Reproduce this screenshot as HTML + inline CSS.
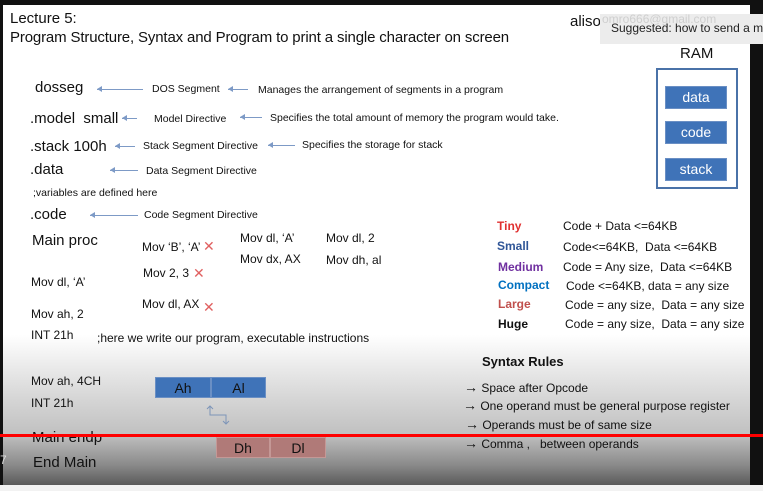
<!DOCTYPE html>
<html><head><meta charset="utf-8"><style>
*{margin:0;padding:0;box-sizing:border-box}
body{width:763px;height:491px;background:#111;position:relative;overflow:hidden;font-family:"Liberation Sans",sans-serif;color:#111}
#slide{position:absolute;left:3px;top:5px;width:747px;height:480px;background:linear-gradient(to bottom,#fff 0px,#fff 330px,#d8d8d8 390px,#c0c0c0 430px,#8a8a8a 460px,#5a5a5a 480px)}
#bot{position:absolute;left:0;top:485px;width:763px;height:6px;background:#f2f2f2}
.t{position:absolute;white-space:nowrap;line-height:1}
.s10{font-size:10.5px}.s12{font-size:12px}.s13{font-size:13px}.s15{font-size:15px}
.ar{position:absolute;height:1px;background:#7d9ac6}
.ar:before{content:"";position:absolute;left:0;top:-3px;border:3px solid transparent;border-right:5px solid #7d9ac6;border-left:0}
.x{position:absolute;color:#e06060;font-size:14px;line-height:1}
.b{position:absolute;background:#3f73b8;color:#fff;font-size:14px;text-align:center;border:1px solid #6a8fc4}
.arr{font-size:14px;font-weight:bold}
</style></head><body>
<div id="slide"></div>
<div id="bot"></div>
<div class="t s15" style="left:10px;top:11px">Lecture 5:</div>
<div class="t s15" style="left:10px;top:30px;letter-spacing:-0.15px">Program Structure, Syntax and Program to print a single character on screen</div>
<div class="t s15" style="left:570px;top:14px">aliso</div>
<div style="position:absolute;left:600px;top:14px;width:163px;height:30px;background:#ececec"></div>
<div class="t" style="left:602px;top:13px;color:#cfcfcf;font-size:12px">omro666@gmail.com</div>
<div class="t s12" style="left:611px;top:22px;color:#222">Suggested: how to send a m</div>
<div class="t s15" style="left:680px;top:46px">RAM</div>
<div style="position:absolute;left:656px;top:68px;width:82px;height:121px;border:2px solid #4a72a8"></div>
<div class="b" style="left:665px;top:86px;width:62px;height:23px;line-height:21px">data</div>
<div class="b" style="left:665px;top:121px;width:62px;height:23px;line-height:21px">code</div>
<div class="b" style="left:665px;top:158px;width:62px;height:23px;line-height:21px">stack</div>

<div class="t s15" style="left:35px;top:80px">dosseg</div>
<div class="ar" style="left:97px;top:89px;width:46px"></div>
<div class="t s10" style="left:152px;top:84px">DOS Segment</div>
<div class="ar" style="left:228px;top:89px;width:20px"></div>
<div class="t s10" style="left:258px;top:85px">Manages the arrangement of segments in a program</div>

<div class="t s15" style="left:30px;top:111px">.model&nbsp; small</div>
<div class="ar" style="left:122px;top:118px;width:15px"></div>
<div class="t s10" style="left:154px;top:114px">Model Directive</div>
<div class="ar" style="left:240px;top:117px;width:22px"></div>
<div class="t s10" style="left:270px;top:113px">Specifies the total amount of memory the program would take.</div>

<div class="t s15" style="left:30px;top:139px">.stack 100h</div>
<div class="ar" style="left:115px;top:146px;width:20px"></div>
<div class="t s10" style="left:143px;top:141px">Stack Segment Directive</div>
<div class="ar" style="left:268px;top:145px;width:27px"></div>
<div class="t s10" style="left:302px;top:140px">Specifies the storage for stack</div>

<div class="t s15" style="left:30px;top:162px">.data</div>
<div class="ar" style="left:110px;top:170px;width:28px"></div>
<div class="t s10" style="left:146px;top:166px">Data Segment Directive</div>
<div class="t s10" style="left:33px;top:188px">;variables are defined here</div>

<div class="t s15" style="left:30px;top:207px">.code</div>
<div class="ar" style="left:90px;top:215px;width:48px"></div>
<div class="t s10" style="left:144px;top:210px">Code Segment Directive</div>

<div class="t s15" style="left:32px;top:233px">Main proc</div>
<div class="t s12" style="left:142px;top:241px">Mov ‘B’, ‘A’</div><div class="x" style="left:203px;top:239px">✕</div>
<div class="t s12" style="left:240px;top:232px">Mov dl, ‘A’</div>
<div class="t s12" style="left:326px;top:232px">Mov dl, 2</div>
<div class="t s12" style="left:240px;top:253px">Mov dx, AX</div>
<div class="t s12" style="left:326px;top:254px">Mov dh, al</div>
<div class="t s12" style="left:143px;top:267px">Mov 2, 3</div><div class="x" style="left:193px;top:266px">✕</div>
<div class="t s12" style="left:31px;top:276px">Mov dl, ‘A’</div>
<div class="t s12" style="left:142px;top:298px">Mov dl, AX</div><div class="x" style="left:203px;top:300px">✕</div>
<div class="t s12" style="left:31px;top:308px">Mov ah, 2</div>
<div class="t s12" style="left:31px;top:329px">INT 21h</div>
<div class="t s12" style="left:97px;top:332px">;here we write our program, executable instructions</div>
<div class="t s12" style="left:31px;top:375px">Mov ah, 4CH</div>
<div class="t s12" style="left:31px;top:397px">INT 21h</div>

<div class="b" style="left:155px;top:377px;width:56px;height:21px;line-height:20px;color:#111">Ah</div>
<div class="b" style="left:211px;top:377px;width:55px;height:21px;line-height:20px;color:#111">Al</div>
<svg style="position:absolute;left:205px;top:404px" width="30" height="24"><path d="M5 2 V11 H21 V20" fill="none" stroke="#7d95b8" stroke-width="1"/><path d="M2 5 L5 2 L8 5 M18 17 L21 20 L24 17" fill="none" stroke="#7d95b8"/></svg>
<div class="b" style="left:216px;top:437px;width:54px;height:21px;line-height:21px;background:#b07a78;border-color:#c49896;color:#111">Dh</div>
<div class="b" style="left:270px;top:437px;width:56px;height:21px;line-height:21px;background:#b07a78;border-color:#c49896;color:#111">Dl</div>

<div class="t s15" style="left:32px;top:430px">Main endp</div>
<div class="t s15" style="left:33px;top:455px">End Main</div>
<div class="t s12" style="left:0px;top:454px;color:#ddd">7</div>

<div class="t s12" style="left:497px;top:220px;color:#e03030;font-weight:bold">Tiny</div>
<div class="t s12" style="left:563px;top:220px">Code + Data &lt;=64KB</div>
<div class="t s12" style="left:497px;top:240px;color:#2f5597;font-weight:bold">Small</div>
<div class="t s12" style="left:563px;top:241px">Code&lt;=64KB,&nbsp; Data &lt;=64KB</div>
<div class="t s12" style="left:498px;top:261px;color:#7030a0;font-weight:bold">Medium</div>
<div class="t s12" style="left:563px;top:261px">Code = Any size,&nbsp; Data &lt;=64KB</div>
<div class="t s12" style="left:498px;top:279px;color:#0070c0;font-weight:bold">Compact</div>
<div class="t s12" style="left:566px;top:280px">Code &lt;=64KB, data = any size</div>
<div class="t s12" style="left:498px;top:298px;color:#c0504d;font-weight:bold">Large</div>
<div class="t s12" style="left:565px;top:299px">Code = any size,&nbsp; Data = any size</div>
<div class="t s12" style="left:498px;top:318px;font-weight:bold">Huge</div>
<div class="t s12" style="left:565px;top:318px">Code = any size,&nbsp; Data = any size</div>

<div class="t s13" style="left:482px;top:355px;font-weight:bold">Syntax Rules</div>
<div class="t s12" style="left:464px;top:380px"><span class="arr">→</span> Space after Opcode</div>
<div class="t s12" style="left:463px;top:398px"><span class="arr">→</span> One operand must be general purpose register</div>
<div class="t s12" style="left:465px;top:417px"><span class="arr">→</span> Operands must be of same size</div>
<div class="t s12" style="left:464px;top:436px"><span class="arr">→</span> Comma ,&nbsp;&nbsp; between operands</div>

<div style="position:absolute;left:0;top:434px;width:763px;height:3px;background:#f00"></div>
</body></html>
